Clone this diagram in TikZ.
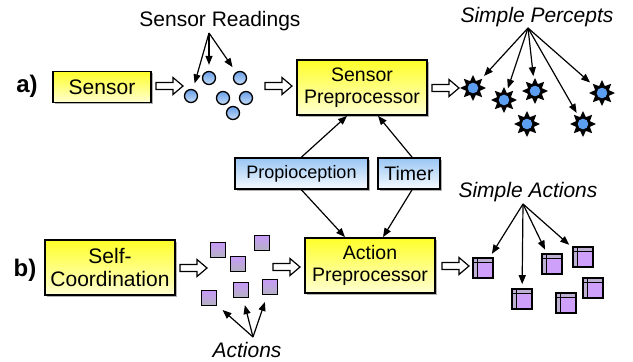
\documentclass[tikz,border=0pt]{standalone}
\usepackage{fontspec}
\setmainfont{Liberation Sans}
\usetikzlibrary{shapes.geometric,shadows,arrows.meta}

\definecolor{yellowtop}{HTML}{FFFF2A}
\definecolor{yellowbot}{HTML}{FFFFD2}
\definecolor{bluetop}{HTML}{99C6F3}
\definecolor{bluebot}{HTML}{F6FAFF}
\definecolor{dottop}{HTML}{6A9FE8}
\definecolor{dotbot}{HTML}{C4DDF8}
\definecolor{starblue}{HTML}{5C9EF2}
\definecolor{acttop}{HTML}{C79AF7}
\definecolor{actbot}{HTML}{B4B2C2}
\definecolor{cubefill}{HTML}{CFA0FA}
\definecolor{cubeband}{HTML}{BDB0D2}

\tikzset{
  boxshadow/.style={drop shadow={shadow xshift=1.6pt,shadow yshift=-1.6pt,opacity=0.3,fill=black}},
  ybox/.style={draw, line width=1.8pt, top color=yellowtop, bottom color=yellowbot,
    align=center, inner sep=0pt, boxshadow},
  bbox/.style={draw, line width=1.8pt, top color=bluetop, bottom color=bluebot,
    align=center, inner sep=0pt, boxshadow, font=\fontsize{18}{21}\selectfont},
  reading/.style={circle, draw, line width=1.3pt, minimum size=13pt, inner sep=0pt,
    top color=dottop, bottom color=dotbot},
  percept/.style={star, star points=8, star point ratio=1.75, fill=black,
    minimum size=26pt, inner sep=0pt,
    path picture={\fill[starblue] (path picture bounding box.center) circle (5.3pt);}},
  act/.style={rectangle, draw, line width=1.6pt, minimum size=15pt, inner sep=0pt,
    top color=acttop, bottom color=actbot},
  simpleact/.style={rectangle, draw, line width=1.6pt, minimum size=20pt, inner sep=0pt,
    fill=cubefill,
    path picture={
      \fill[cubeband] (path picture bounding box.north west) rectangle
        ([yshift=-4pt]path picture bounding box.north east);
      \fill[cubeband] (path picture bounding box.north west) rectangle
        ([xshift=4pt]path picture bounding box.south west);
      \draw[line width=0.9pt] ([yshift=-4pt]path picture bounding box.north west) --
        ([yshift=-4pt]path picture bounding box.north east);
      \draw[line width=0.9pt] ([xshift=4pt]path picture bounding box.north west) --
        ([xshift=4pt]path picture bounding box.south west);}},
  conn/.style={line width=1.2pt, -{Triangle[length=9pt,width=7pt]}},
  fan/.style={conn, shorten >=4pt},
  lbl/.style={font=\fontsize{21}{25}\selectfont\itshape, inner sep=0pt},
  rowlbl/.style={font=\bfseries\fontsize{24}{27}\selectfont, inner sep=0pt},
  pics/hollow/.style={code={
    \draw[line width=1.2pt, fill=white, line join=miter]
      (0,-3.5) -- (17,-3.5) -- (17,-8.5) -- (27,0) -- (17,8.5) -- (17,3.5) -- (0,3.5) -- cycle;}}
}

\begin{document}
\begin{tikzpicture}[x=1pt,y=-1pt]
\useasboundingbox (0,0) rectangle (633,362);

% row labels
\node[rowlbl] (rowa) at (27,86) {a)};
\node[rowlbl] (rowb) at (25,270) {b)};

% main blocks
\node[ybox, minimum width=98pt, minimum height=31pt, font=\fontsize{21}{24}\selectfont]
  (sensor) at (102,87) {Sensor};
\node[ybox, minimum width=130pt, minimum height=55pt, font=\fontsize{19.5}{22}\selectfont]
  (sensorpre) at (362,87.5) {Sensor\\Preprocessor};
\node[bbox, minimum width=133pt, minimum height=31pt] (prop) at (301.5,173.5) {Propioception};
\node[bbox, minimum width=62pt, minimum height=31pt, font=\fontsize{19.5}{22}\selectfont]
  (timer) at (409,173.5) {Timer};
\node[ybox, minimum width=130pt, minimum height=55pt, font=\fontsize{21}{22.5}\selectfont]
  (selfco) at (110,267.5) {Self-\\Coordination};
\node[ybox, minimum width=130pt, minimum height=55pt, font=\fontsize{19.5}{22}\selectfont]
  (actionpre) at (370,265.5) {Action\\Preprocessor};

% block arrows between stages
\pic at (156,86) {hollow};
\pic at (265,86) {hollow};
\pic at (432,88) {hollow};
\pic at (180,268) {hollow};
\pic at (273,267) {hollow};
\pic at (442,266) {hollow};

% sensor readings
\node[reading] (r1) at (191,96) {};
\node[reading] (r2) at (209,78) {};
\node[reading] (r3) at (240,78) {};
\node[reading] (r4) at (223,98) {};
\node[reading] (r5) at (246,98) {};
\node[reading] (r6) at (233,113) {};
\node[lbl, font=\fontsize{21}{25}\selectfont] (readlbl) at (220,21) {Sensor Readings};
\coordinate (readfan) at (209,33);
\draw[fan, shorten >=6pt] (readfan) -- (r1);
\draw[fan, shorten >=6pt] (readfan) -- (r2);
\draw[fan, shorten >=6pt] (readfan) -- (r3);

% simple percepts
\node[percept] (s1) at (473,88) {};
\node[percept] (s2) at (504,100) {};
\node[percept] (s3) at (535,91) {};
\node[percept] (s4) at (527,124) {};
\node[percept] (s5) at (602,93) {};
\node[percept] (s6) at (583,124) {};
\node[lbl] (perclbl) at (537,17) {Simple Percepts};
\coordinate (percfan) at (528,28);
\draw[fan] (percfan) -- (s1);
\draw[fan] (percfan) -- (s2);
\draw[fan] (percfan) -- (s3);
\draw[fan] (percfan) -- (s6);
\draw[fan] (percfan) -- (s5);

% proprioception and timer feed both preprocessors
\draw[conn] (prop.north) -- ([xshift=-15pt]sensorpre.south);
\draw[conn] ([xshift=3pt]timer.north) -- ([xshift=16pt]sensorpre.south);
\draw[conn] (prop.south) -- ([xshift=-25pt]actionpre.north);
\draw[conn] ([xshift=3pt]timer.south) -- ([xshift=13pt]actionpre.north);

% actions
\node[act] (a1) at (218,250) {};
\node[act] (a2) at (262,243) {};
\node[act] (a3) at (238,264) {};
\node[act] (a4) at (209,298) {};
\node[act] (a5) at (241,290) {};
\node[act] (a6) at (270,287) {};
\node[lbl] (actlbl) at (247,350) {Actions};
\coordinate (actfan) at (253,337);
\draw[fan, shorten >=7pt] (actfan) -- (a4);
\draw[fan, shorten >=7pt] (actfan) -- (a5);
\draw[fan, shorten >=7pt] (actfan) -- (a6);

% simple actions
\node[simpleact] (c1) at (483,268) {};
\node[simpleact] (c2) at (522,299) {};
\node[simpleact] (c3) at (552,264) {};
\node[simpleact] (c4) at (583,257) {};
\node[simpleact] (c5) at (593,288) {};
\node[simpleact] (c6) at (566,303) {};
\node[lbl] (sactlbl) at (528,192) {Simple Actions};
\coordinate (sactfan) at (523,204);
\draw[fan] (sactfan) -- (c1);
\draw[fan] (sactfan) -- (c2);
\draw[fan] (sactfan) -- (c3);
\draw[fan] (sactfan) -- (c4);
\end{tikzpicture}
\end{document}
